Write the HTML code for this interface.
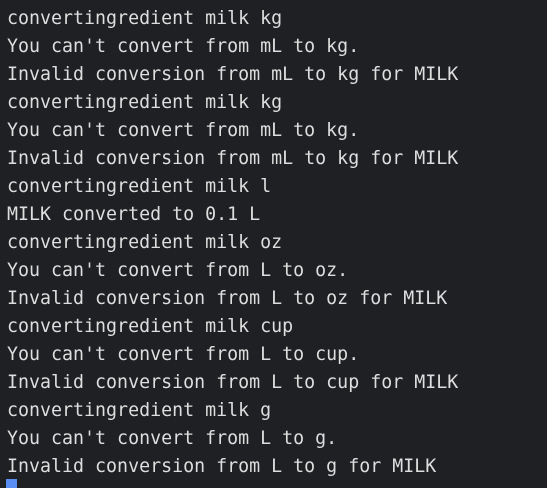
<!DOCTYPE html>
<html><head><style>
html,body{margin:0;padding:0;}
body{width:547px;height:488px;background:#1f2023;overflow:hidden;position:relative;}
pre{margin:0;position:absolute;left:7px;top:5px;font-family:"DejaVu Sans Mono","Liberation Mono",monospace;font-size:18.3px;line-height:28px;color:#dedede;}
.cur{position:absolute;left:6px;top:479px;width:11px;height:9px;background:#5b8ef2;}
</style></head><body>
<pre>convertingredient milk kg
You can't convert from mL to kg.
Invalid conversion from mL to kg for MILK
convertingredient milk kg
You can't convert from mL to kg.
Invalid conversion from mL to kg for MILK
convertingredient milk l
MILK converted to 0.1 L
convertingredient milk oz
You can't convert from L to oz.
Invalid conversion from L to oz for MILK
convertingredient milk cup
You can't convert from L to cup.
Invalid conversion from L to cup for MILK
convertingredient milk g
You can't convert from L to g.
Invalid conversion from L to g for MILK</pre>
<div class="cur"></div>
</body></html>
